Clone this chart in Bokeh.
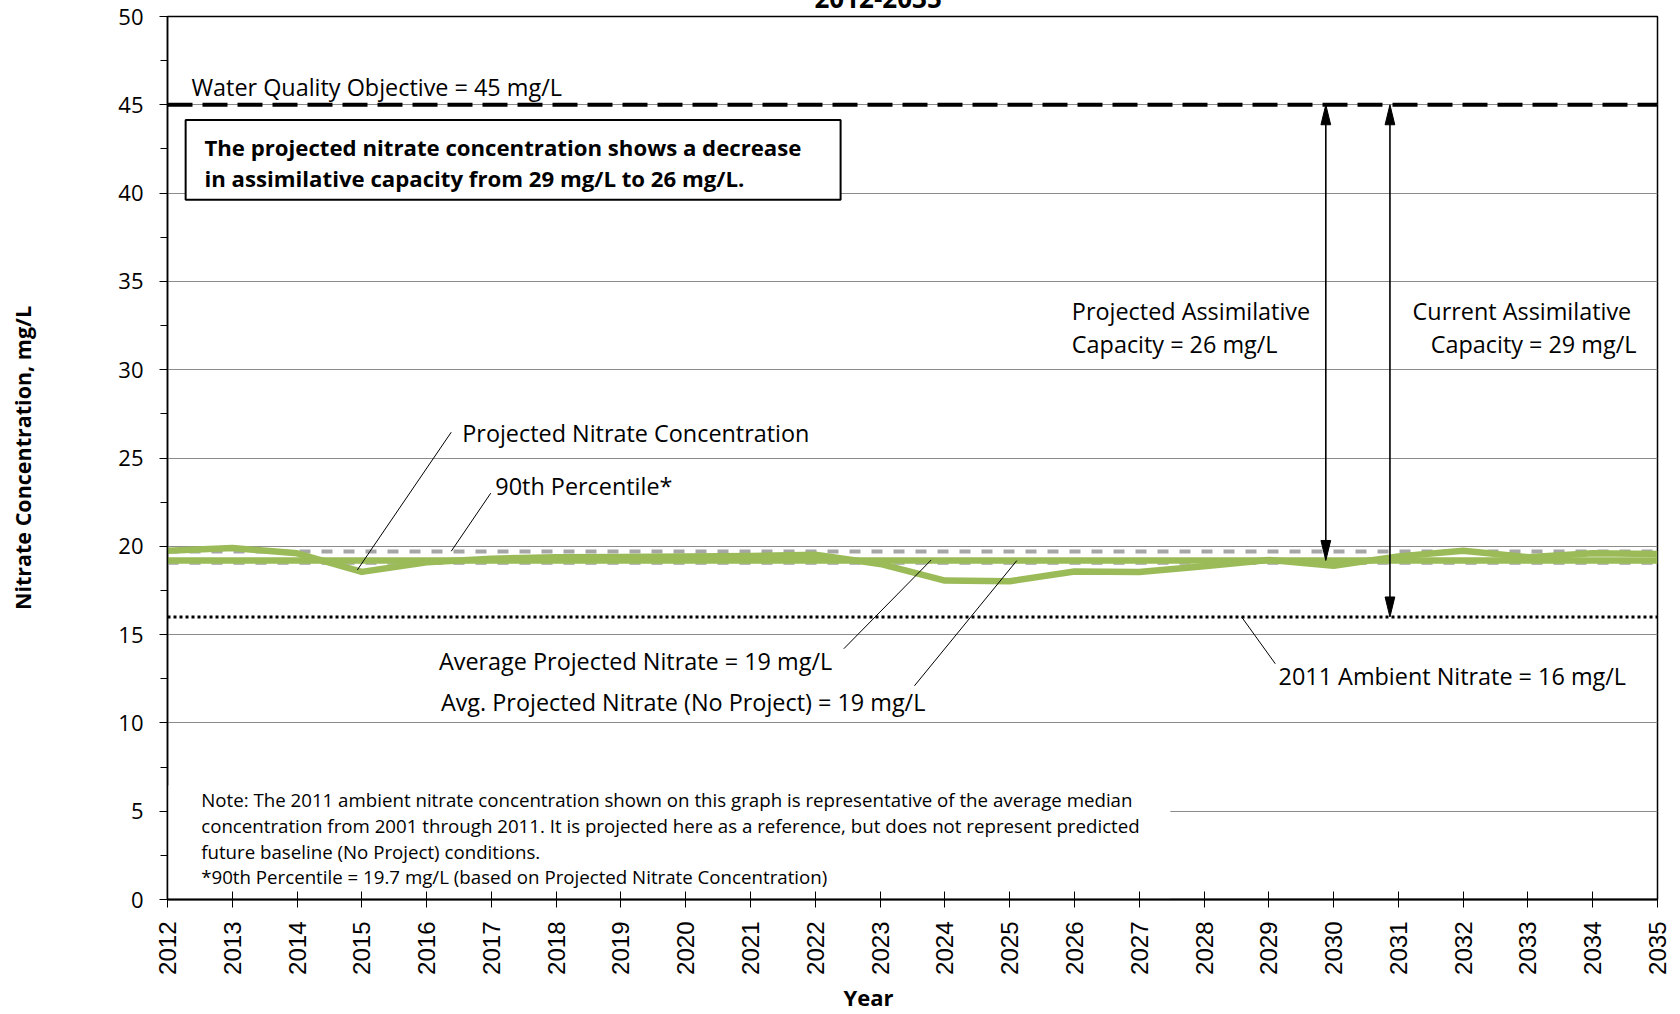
import math
from bokeh.plotting import figure
from bokeh.models import Range1d, FixedTicker, Label, Title
from bokeh.embed import file_html
from bokeh.resources import INLINE

# ---------------- data ----------------
years = list(range(2012, 2036))
projected_nitrate = [19.75, 19.9, 19.6, 18.55, 19.1, 19.3, 19.38, 19.4, 19.42, 19.45,
                     19.52, 19.0, 18.06, 18.02, 18.57, 18.55, 18.87, 19.23, 18.9, 19.43,
                     19.75, 19.38, 19.6, 19.57]
avg_projected = 19.2
avg_no_project = 19.05
percentile_90 = 19.7
ambient_2011 = 16.0
water_quality_objective = 45.0
y_ticks = [0, 5, 10, 15, 20, 25, 30, 35, 40, 45, 50]
y_minor = [2.5, 7.5, 12.5, 17.5, 22.5, 27.5, 32.5, 37.5, 42.5, 47.5]

GREEN = "#9BBB59"
FONT = "Open Sans"
HIDDEN_TOP = 60  # canvas pixels pushed above the page top (title is cut off in the original)

p = figure(width=1672, height=1013 + HIDDEN_TOP, x_range=Range1d(2012, 2035), y_range=Range1d(0, 50),
           output_backend="svg", toolbar_location=None,
           min_border_left=167, min_border_right=15, min_border_top=16 + HIDDEN_TOP,
           min_border_bottom=112)
p.styles = {"margin-top": f"-{HIDDEN_TOP}px"}
p.background_fill_color = "white"
p.border_fill_color = "white"
p.outline_line_color = "black"
p.outline_line_width = 1.5

# grid
p.xgrid.grid_line_color = None
p.ygrid.grid_line_color = "#8C8C8C"
p.ygrid.grid_line_width = 1
p.ygrid.ticker = FixedTicker(ticks=y_ticks)

# y axis
p.yaxis.ticker = FixedTicker(ticks=y_ticks, minor_ticks=y_minor)
p.yaxis.axis_line_color = "black"
p.yaxis.axis_line_width = 1.5
p.yaxis.major_tick_out = 8
p.yaxis.major_tick_in = 0
p.yaxis.minor_tick_out = 7
p.yaxis.minor_tick_in = 0
p.yaxis.major_tick_line_width = 1.2
p.yaxis.minor_tick_line_width = 1.2
p.yaxis.major_label_text_font = FONT
p.yaxis.major_label_text_font_size = "22px"
p.yaxis.major_label_text_color = "black"
p.yaxis.major_label_standoff = 16
p.yaxis.axis_label = "Nitrate Concentration, mg/L"
p.yaxis.axis_label_text_font = FONT
p.yaxis.axis_label_text_font_style = "bold"
p.yaxis.axis_label_text_font_size = "21.5px"
p.yaxis.axis_label_text_color = "black"
p.yaxis.axis_label_standoff = 78

# x axis
p.xaxis.ticker = FixedTicker(ticks=years)
p.xaxis.axis_line_color = "black"
p.xaxis.axis_line_width = 2
p.xaxis.major_tick_out = 8
p.xaxis.major_tick_in = 8
p.xaxis.minor_tick_line_color = None
p.xaxis.major_label_orientation = math.pi / 2
p.xaxis.major_label_text_font = "Liberation Sans"
p.xaxis.major_label_text_font_size = "24px"
p.xaxis.major_label_text_color = "black"
p.xaxis.major_label_standoff = 14

# titles (top one is mostly hidden above the page, as in the original)
p.add_layout(Title(text="2012-2035", text_font=FONT, text_font_style="bold",
                   text_font_size="26px", text_color="black", align="left", offset=647,
                   standoff=17), "above")
p.add_layout(Title(text="Year", text_font=FONT, text_font_style="bold",
                   text_font_size="22px", text_color="black", align="left", offset=676,
                   standoff=4), "below")

# white boxes (note area and message box)
p.quad(left=[2012.0], right=[2027.48], bottom=[0.05], top=[6.45],
       fill_color="white", line_color=None)
p.quad(left=[2012.28], right=[2022.39], bottom=[39.62], top=[44.14],
       fill_color="white", line_color="black", line_width=2)

# reference lines
p.line([years[0], years[-1]], [water_quality_objective] * 2, line_color="black",
       line_width=4, line_dash="25 10")
p.line([years[0], years[-1]], [ambient_2011] * 2, line_color="black",
       line_width=3, line_dash="3 3")
p.line([years[0], years[-1]], [percentile_90] * 2, line_color="#A6A6A6",
       line_width=4, line_dash="11 11")
p.line([years[0], years[-1]], [avg_no_project] * 2, line_color="#B8B8B8",
       line_width=4, line_dash="11 11")
p.line([years[0], years[-1]], [avg_projected] * 2, line_color=GREEN, line_width=6.5)
p.line(years, projected_nitrate, line_color=GREEN, line_width=6.5, line_join="round")

# capacity arrows
head_len = 1.13   # data units (~20 px)
head_half = 0.075  # years (~5 px)
for ax, ybot in [(2029.88, avg_projected), (2030.87, ambient_2011)]:
    p.line([ax, ax], [water_quality_objective - 0.5, ybot + 0.5], line_color="black", line_width=1.6)
    p.patches([[ax, ax - head_half, ax + head_half], [ax, ax - head_half, ax + head_half]],
              [[water_quality_objective, water_quality_objective - head_len, water_quality_objective - head_len],
               [ybot, ybot + head_len, ybot + head_len]],
              fill_color="black", line_color="black", line_width=1)

# leader lines
leaders = [((2016.38, 26.46), (2014.93, 18.66)),
           ((2016.99, 23.01), (2016.38, 19.72)),
           ((2022.44, 14.2), (2023.79, 19.23)),
           ((2023.53, 12.1), (2025.11, 19.19)),
           ((2029.1, 13.35), (2028.58, 16.0))]
p.multi_line([[a[0], b[0]] for a, b in leaders], [[a[1], b[1]] for a, b in leaders],
             line_color="black", line_width=1)


def lab(x, y, text, size="23.4px", style="normal", align="left", baseline="middle"):
    p.add_layout(Label(x=x, y=y, text=text, text_font=FONT, text_font_size=size,
                       text_font_style=style, text_color="black", text_baseline=baseline,
                       text_align=align))


lab(2012.37, 46.02, "Water Quality Objective = 45 mg/L")
lab(2012.57, 42.56, "The projected nitrate concentration shows a decrease", size="22.2px", style="bold")
lab(2012.57, 40.81, "in assimilative capacity from 29 mg/L to 26 mg/L.", size="22.2px", style="bold")
lab(2025.96, 33.3, "Projected Assimilative")
lab(2025.96, 31.43, "Capacity = 26 mg/L")
lab(2031.22, 33.3, "Current Assimilative")
lab(2031.5, 31.43, "Capacity = 29 mg/L")
lab(2016.55, 26.41, "Projected Nitrate Concentration")
lab(2017.06, 23.44, "90th Percentile*")
lab(2016.19, 13.51, "Average Projected Nitrate = 19 mg/L")
lab(2016.22, 11.21, "Avg. Projected Nitrate (No Project) = 19 mg/L")
lab(2029.15, 12.67, "2011 Ambient Nitrate = 16 mg/L")

note_lines = ["Note: The 2011 ambient nitrate concentration shown on this graph is representative of the average median",
              "concentration from 2001 through 2011.  It is projected here as a reference, but does not represent predicted",
              "future baseline (No Project) conditions.",
              "*90th Percentile = 19.7 mg/L (based on Projected Nitrate Concentration)"]
for ly, t in zip([5.64, 4.19, 2.74, 1.28], note_lines):
    lab(2012.52, ly, t, size="18.7px")

open("out.html", "w").write(file_html(p, INLINE))
